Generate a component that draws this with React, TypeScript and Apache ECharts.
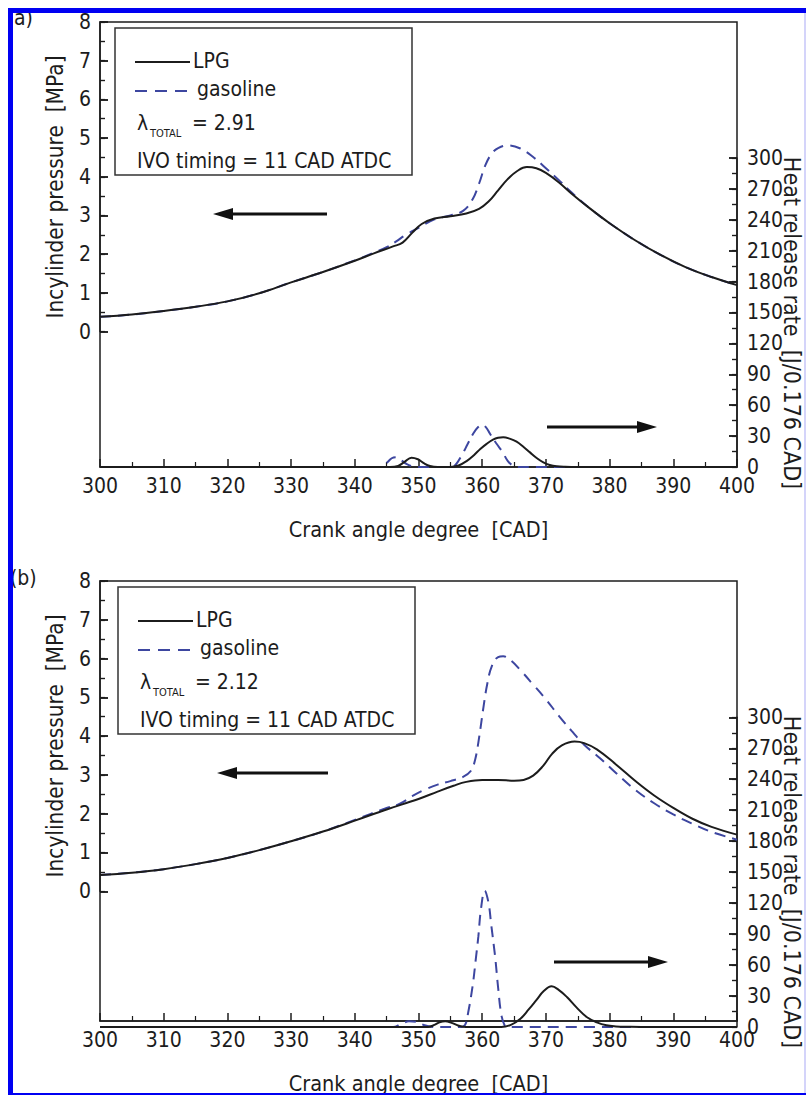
import { useEffect, useRef } from 'react';
import * as echarts from 'echarts';

const FONT = "'DejaVu Sans Condensed', 'DejaVu Sans', sans-serif";
const INK = '#1c1c1c';
const BLUE = '#3d46a0';
const DASH = [11, 7];

// Axis ranges (pressure axis spans -3.5..8 over the full frame, labelled 0..8;
// heat release axis spans 0..432 over the full frame, labelled 0..300)
const PRESS_MIN = -3.5;
const PRESS_MAX = 8;
const PRESS_STEP = 1;
const HRR_FULL = 432;
const HRR_MAX = 300;
const HRR_STEP = 30;
const CAD_MIN = 300;
const CAD_MAX = 400;
const CAD_STEP = 10;
const MAJOR_TICK = 8;
const MINOR_TICK = 5;

// Panel (a): in-cylinder pressure [MPa]
const aLpgPressCad = [300, 305, 310, 315, 320, 325, 330, 335, 340, 343, 346, 347.5, 349, 350.5, 352.5, 355, 357.5, 359.5, 361, 362.5, 364, 365.5, 367, 368.5, 370, 372, 374, 377, 380, 384, 388, 392, 396, 400];
const aLpgPress = [0.38, 0.44, 0.53, 0.64, 0.78, 0.99, 1.27, 1.54, 1.83, 2.02, 2.2, 2.3, 2.55, 2.78, 2.92, 2.98, 3.05, 3.17, 3.36, 3.65, 3.94, 4.15, 4.25, 4.22, 4.1, 3.86, 3.57, 3.17, 2.8, 2.36, 1.98, 1.66, 1.41, 1.2];
const aGasPressCad = [300, 305, 310, 315, 320, 325, 330, 335, 340, 343, 345, 346.5, 348, 350, 352.5, 355, 357, 358.5, 359.5, 360.5, 361.5, 362.5, 364, 366, 368, 370, 372, 374, 377, 380, 384, 388, 392, 396, 400];
const aGasPress = [0.38, 0.44, 0.53, 0.64, 0.78, 0.99, 1.27, 1.54, 1.84, 2.04, 2.18, 2.33, 2.5, 2.68, 2.9, 3.0, 3.12, 3.42, 3.82, 4.3, 4.6, 4.74, 4.81, 4.73, 4.51, 4.22, 3.92, 3.6, 3.17, 2.8, 2.36, 1.98, 1.66, 1.41, 1.2];
// Panel (a): heat release rate [J/0.176 CAD]
const aLpgHrrCad = [300, 345.5, 346.8, 347.8, 348.9, 349.9, 350.9, 351.8, 353, 355, 356.3, 357.6, 358.7, 359.7, 360.7, 361.7, 362.5, 363.3, 364.3, 365.4, 366.5, 367.5, 368.6, 369.6, 370.6, 371.7, 373, 375, 400];
const aLpgHrr = [0, 0, 1, 5, 9, 7.5, 3.5, 1, 0, 0, 1.5, 6, 11.5, 17.5, 22.5, 26.5, 28.3, 28.8, 27.5, 24.6, 19.5, 14.2, 8.5, 4.5, 2, 0.7, 0.2, 0, 0];
const aGasHrrCad = [300, 344, 345, 345.8, 346.5, 347.3, 348.1, 349, 350, 355, 355.8, 356.8, 357.7, 358.6, 359.4, 360, 360.6, 361.2, 362.2, 363.2, 364, 364.9, 365.7, 400];
const aGasHrr = [0, 0, 4, 8.5, 9.5, 6.5, 3, 0.8, 0, 0, 2, 11.5, 22, 32.5, 39, 41, 38.5, 32.5, 23, 14.5, 6, 1, 0, 0];

// Panel (b): in-cylinder pressure [MPa]
const bLpgPressCad = [300, 305, 310, 315, 320, 325, 330, 335, 340, 345, 350, 353, 355.5, 357.5, 360, 362.5, 365, 366.5, 368, 369.5, 371, 372.5, 374.5, 376, 378, 381, 384, 387, 390, 393, 396, 400];
const bLpgPress = [0.42, 0.48, 0.57, 0.7, 0.86, 1.06, 1.29, 1.54, 1.82, 2.11, 2.38, 2.57, 2.72, 2.82, 2.87, 2.87, 2.85, 2.87, 2.98, 3.22, 3.55, 3.76, 3.86, 3.82, 3.66, 3.27, 2.85, 2.47, 2.15, 1.87, 1.66, 1.46];
const bGasPressCad = [300, 305, 310, 315, 320, 325, 330, 335, 340, 345, 347, 349, 351, 353, 355, 357, 358.2, 358.9, 359.5, 360.2, 360.8, 361.5, 362.5, 363.3, 364.5, 366, 368, 370, 372, 374, 376, 378.5, 381, 384, 387, 390, 393, 396, 400];
const bGasPress = [0.42, 0.48, 0.57, 0.7, 0.86, 1.06, 1.29, 1.54, 1.84, 2.15, 2.25, 2.45, 2.62, 2.75, 2.84, 2.95, 3.1, 3.4, 3.95, 4.75, 5.35, 5.8, 6.04, 6.06, 5.95, 5.7, 5.33, 4.95, 4.53, 4.14, 3.78, 3.43, 3.05, 2.62, 2.27, 1.98, 1.74, 1.53, 1.33];
// Panel (b): heat release rate [J/0.176 CAD]
const bLpgHrrCad = [300, 351.5, 352.5, 353.3, 354.2, 355.2, 356.2, 357, 358, 363, 364.5, 366, 367.3, 368.5, 369.7, 370.9, 372, 373.3, 374.8, 376.4, 378, 379.5, 381, 383, 385, 400];
const bLpgHrr = [0, 0, 2, 4.5, 5.5, 4, 1.5, 0.3, 0, 0, 2, 8, 17, 26, 35, 39.4, 36, 29, 19, 9.7, 4.5, 1.6, 0.6, 0.2, 0, 0];
const bGasHrrCad = [300, 346, 347.3, 348.5, 349.6, 350.8, 352, 353, 356.5, 357.3, 357.8, 358.5, 359, 359.4, 359.8, 360.4, 361, 361.4, 361.8, 362.1, 362.5, 363, 363.5, 364, 400];
const bGasHrr = [0, 0, 3, 5.5, 5, 2, 0.3, 0, 0, 2, 14, 40, 66, 88, 114, 132, 120, 100, 80, 64, 38, 12, 2, 0, 0];

const seriesNames = ['LPG', 'gasoline'];
const lambdaValues = ['2.91', '2.12'];
const panelLabels = ['a)', '(b)'];

const pairs = (xs: number[], ys: number[]) => xs.map((x, i) => [x, ys[i]]);

function buildOption() {
  const frames = [
    { left: 100, top: 22, width: 637, height: 445 },
    { left: 100, top: 581, width: 637, height: 446 },
  ];
  const lineStyle = { color: INK, width: 1.5 };
  const minorLine = { color: INK, width: 1.2 };
  const labelStyle = { fontFamily: FONT, fontSize: 21, color: INK };

  const grid: any[] = [];
  const xAxis: any[] = [];
  const yAxis: any[] = [];
  const series: any[] = [];
  const graphic: any[] = [];

  const data = [
    { lp: pairs(aLpgPressCad, aLpgPress), gp: pairs(aGasPressCad, aGasPress), lh: pairs(aLpgHrrCad, aLpgHrr), gh: pairs(aGasHrrCad, aGasHrr) },
    { lp: pairs(bLpgPressCad, bLpgPress), gp: pairs(bGasPressCad, bGasPress), lh: pairs(bLpgHrrCad, bLpgHrr), gh: pairs(bGasHrrCad, bGasHrr) },
  ];

  const txt = (x: number, y: number, text: string, size = 21, rotation = 0, align = 'left', lineHeight?: number) => ({
    type: 'text', x, y, z: 20, rotation,
    style: { text, font: `${size}px ${FONT}`, fill: INK, align, verticalAlign: 'middle', textAlign: align, textVerticalAlign: 'middle', ...(lineHeight ? { lineHeight } : {}) },
  });

  // a narrow strip whose y-axis split lines act as the inward tick marks of a scale
  const tickStrip = (left: number, width: number, top: number, height: number, max: number, interval: number, lw: number) => {
    const gi = grid.length;
    grid.push({ left, width, top, height, show: false });
    xAxis.push({ type: 'value', gridIndex: gi, min: 0, max: 1, show: false });
    yAxis.push({
      type: 'value', gridIndex: gi, min: 0, max, interval,
      axisLine: { show: false, onZero: false }, axisTick: { show: false }, axisLabel: { show: false },
      splitLine: { show: true, lineStyle: { color: INK, width: lw } },
    });
  };

  frames.forEach((f, fi) => {
    const dy = fi === 0 ? 0 : 559;
    const dx = fi === 0 ? 0 : 3;
    const base = grid.length;
    // sub-areas whose axes carry the labelled part of each scale
    const pH = (f.height * PRESS_MAX) / (PRESS_MAX - PRESS_MIN);
    const hH = (f.height * HRR_MAX) / HRR_FULL;
    const hTop = f.top + f.height - hH;
    grid.push(
      { ...f, show: true, borderColor: INK, borderWidth: 1.5, backgroundColor: 'transparent' },
      { left: f.left, width: f.width, top: f.top, height: pH, show: false },
      { left: f.left, width: f.width, top: hTop, height: hH, show: false },
    );
    xAxis.push(
      {
        type: 'value', gridIndex: base, min: CAD_MIN, max: CAD_MAX, interval: CAD_STEP,
        axisLine: { show: true, onZero: false, lineStyle },
        axisTick: { show: true, inside: true, length: MAJOR_TICK, lineStyle },
        minorTick: { show: true, splitNumber: 2, length: MINOR_TICK, lineStyle: minorLine },
        splitLine: { show: false },
        minorSplitLine: { show: false },
        axisLabel: { ...labelStyle, margin: 11, lineHeight: 16 },
        name: 'Crank angle degree  [CAD]', nameLocation: 'middle', nameGap: 51,
        nameTextStyle: { ...labelStyle, fontSize: 21.5 },
      },
      { type: 'value', gridIndex: base + 1, min: CAD_MIN, max: CAD_MAX, show: false },
      { type: 'value', gridIndex: base + 2, min: CAD_MIN, max: CAD_MAX, show: false },
    );
    yAxis.push(
      { type: 'value', gridIndex: base, min: PRESS_MIN, max: PRESS_MAX, show: false },
      {
        type: 'value', gridIndex: base + 1, position: 'left', min: 0, max: PRESS_MAX, interval: PRESS_STEP,
        axisLine: { show: true, onZero: false, lineStyle },
        axisTick: { show: true, inside: true, length: MAJOR_TICK, lineStyle },
        minorTick: { show: true, splitNumber: 2, length: MINOR_TICK, lineStyle: minorLine },
        axisLabel: { ...labelStyle, margin: 9, lineHeight: 16 },
        splitLine: { show: false },
        minorSplitLine: { show: false },
      },
      {
        type: 'value', gridIndex: base + 2, position: 'right', min: 0, max: HRR_MAX, interval: HRR_STEP,
        axisLine: { show: true, onZero: false, lineStyle },
        axisTick: { show: true, inside: true, length: MAJOR_TICK, lineStyle },
        minorTick: { show: true, splitNumber: 2, length: MINOR_TICK, lineStyle: minorLine },
        axisLabel: { ...labelStyle, margin: 10, lineHeight: 16 },
        splitLine: { show: false },
        minorSplitLine: { show: false },
      },
    );
    const d = data[fi];
    const common = { type: 'line', symbol: 'none', smooth: 0.4, animation: false };
    const gasLine = { color: BLUE, width: 2, type: DASH };
    const lpgLine = { color: INK, width: 2 };
    series.push(
      { ...common, name: seriesNames[1], xAxisIndex: base + 1, yAxisIndex: base + 1, data: d.gp, lineStyle: gasLine, itemStyle: { color: BLUE }, z: 2 },
      { ...common, name: seriesNames[1], xAxisIndex: base + 2, yAxisIndex: base + 2, data: d.gh, lineStyle: gasLine, itemStyle: { color: BLUE }, z: 2 },
      { ...common, name: seriesNames[0], xAxisIndex: base + 1, yAxisIndex: base + 1, data: d.lp, lineStyle: lpgLine, itemStyle: { color: INK }, z: 3 },
      { ...common, name: seriesNames[0], xAxisIndex: base + 2, yAxisIndex: base + 2, data: d.lh, lineStyle: lpgLine, itemStyle: { color: INK }, z: 3 },
    );
    // inward tick marks of both value scales
    tickStrip(f.left, MAJOR_TICK, f.top, pH, PRESS_MAX, PRESS_STEP, 1.5);
    tickStrip(f.left, MINOR_TICK, f.top, pH, PRESS_MAX, PRESS_STEP / 2, 1.2);
    tickStrip(f.left + f.width - MAJOR_TICK, MAJOR_TICK, hTop, hH, HRR_MAX, HRR_STEP, 1.5);
    tickStrip(f.left + f.width - MINOR_TICK, MINOR_TICK, hTop, hH, HRR_MAX, HRR_STEP / 2, 1.2);

    // legend box, keys and annotation texts
    graphic.push(
      { type: 'rect', z: 10, shape: { x: 115 + dx, y: 28 + dy, width: 297, height: 147 }, style: { fill: 'none', stroke: '#333', lineWidth: 1.5 } },
      { type: 'line', z: 12, shape: { x1: 135 + dx, y1: 62 + dy, x2: 190 + dx, y2: 62 + dy }, style: { stroke: INK, lineWidth: 2 } },
      txt(193 + dx, 61 + dy, seriesNames[0]),
      { type: 'line', z: 12, shape: { x1: 135 + dx, y1: 91 + dy, x2: 190 + dx, y2: 91 + dy }, style: { stroke: BLUE, lineWidth: 2, lineDash: [12, 8] } },
      txt(197 + dx, 89 + dy, seriesNames[1]),
      txt(137 + dx, 123 + dy, 'λ'),
      txt(150 + dx, 133 + dy, 'TOTAL', 11),
      txt(192 + dx, 123 + dy, '= ' + lambdaValues[fi]),
      txt(137 + dx, 161 + dy, 'IVO timing = 11 CAD ATDC'),
      txt(fi === 0 ? 14 : 10, fi === 0 ? 18 : 578, panelLabels[fi]),
      txt(55, 187 + dy, 'Incylinder pressure  [MPa]', 22.5, Math.PI / 2, 'center'),
      txt(792, 323 + dy, 'Heat release rate  [J/0.176 CAD]', 23, -Math.PI / 2, 'center', 22),
    );
  });

  // arrows pointing to the axis each curve family belongs to
  const arrows = [
    { x1: 327, x2: 213, y: 214 },
    { x1: 547, x2: 657, y: 427 },
    { x1: 328, x2: 217, y: 773 },
    { x1: 554, x2: 668, y: 962 },
  ];
  arrows.forEach((a) => {
    const dir = a.x2 > a.x1 ? 1 : -1;
    graphic.push(
      { type: 'line', z: 15, shape: { x1: a.x1, y1: a.y, x2: a.x2 - dir * 14, y2: a.y }, style: { stroke: '#111', lineWidth: 3 } },
      { type: 'polygon', z: 15, shape: { points: [[a.x2, a.y], [a.x2 - dir * 20, a.y - 6], [a.x2 - dir * 20, a.y + 6]] }, style: { fill: '#111' } },
    );
  });

  // blue frame of the figure
  graphic.push(
    { type: 'rect', z: 50, shape: { x: 10.5, y: 10.5, width: 802, height: 1085 }, style: { fill: 'none', stroke: '#0000f2', lineWidth: 5 } },
    { type: 'line', z: 50, shape: { x1: 805, y1: 13, x2: 805, y2: 1093 }, style: { stroke: '#d4d4fa', lineWidth: 2 } },
  );

  return {
    animation: false,
    backgroundColor: '#ffffff',
    textStyle: { fontFamily: FONT },
    grid, xAxis, yAxis, series, graphic,
  };
}

export default function App() {
  const ref = useRef<HTMLDivElement>(null);
  useEffect(() => {
    if (!ref.current) return;
    const chart = echarts.init(ref.current, null, { renderer: 'svg' });
    chart.setOption(buildOption() as any);
    return () => chart.dispose();
  }, []);
  return (
    <div
      ref={ref}
      style={{ position: 'absolute', left: 0, top: 0, width: 806, height: 1095, background: '#fff' }}
    />
  );
}
